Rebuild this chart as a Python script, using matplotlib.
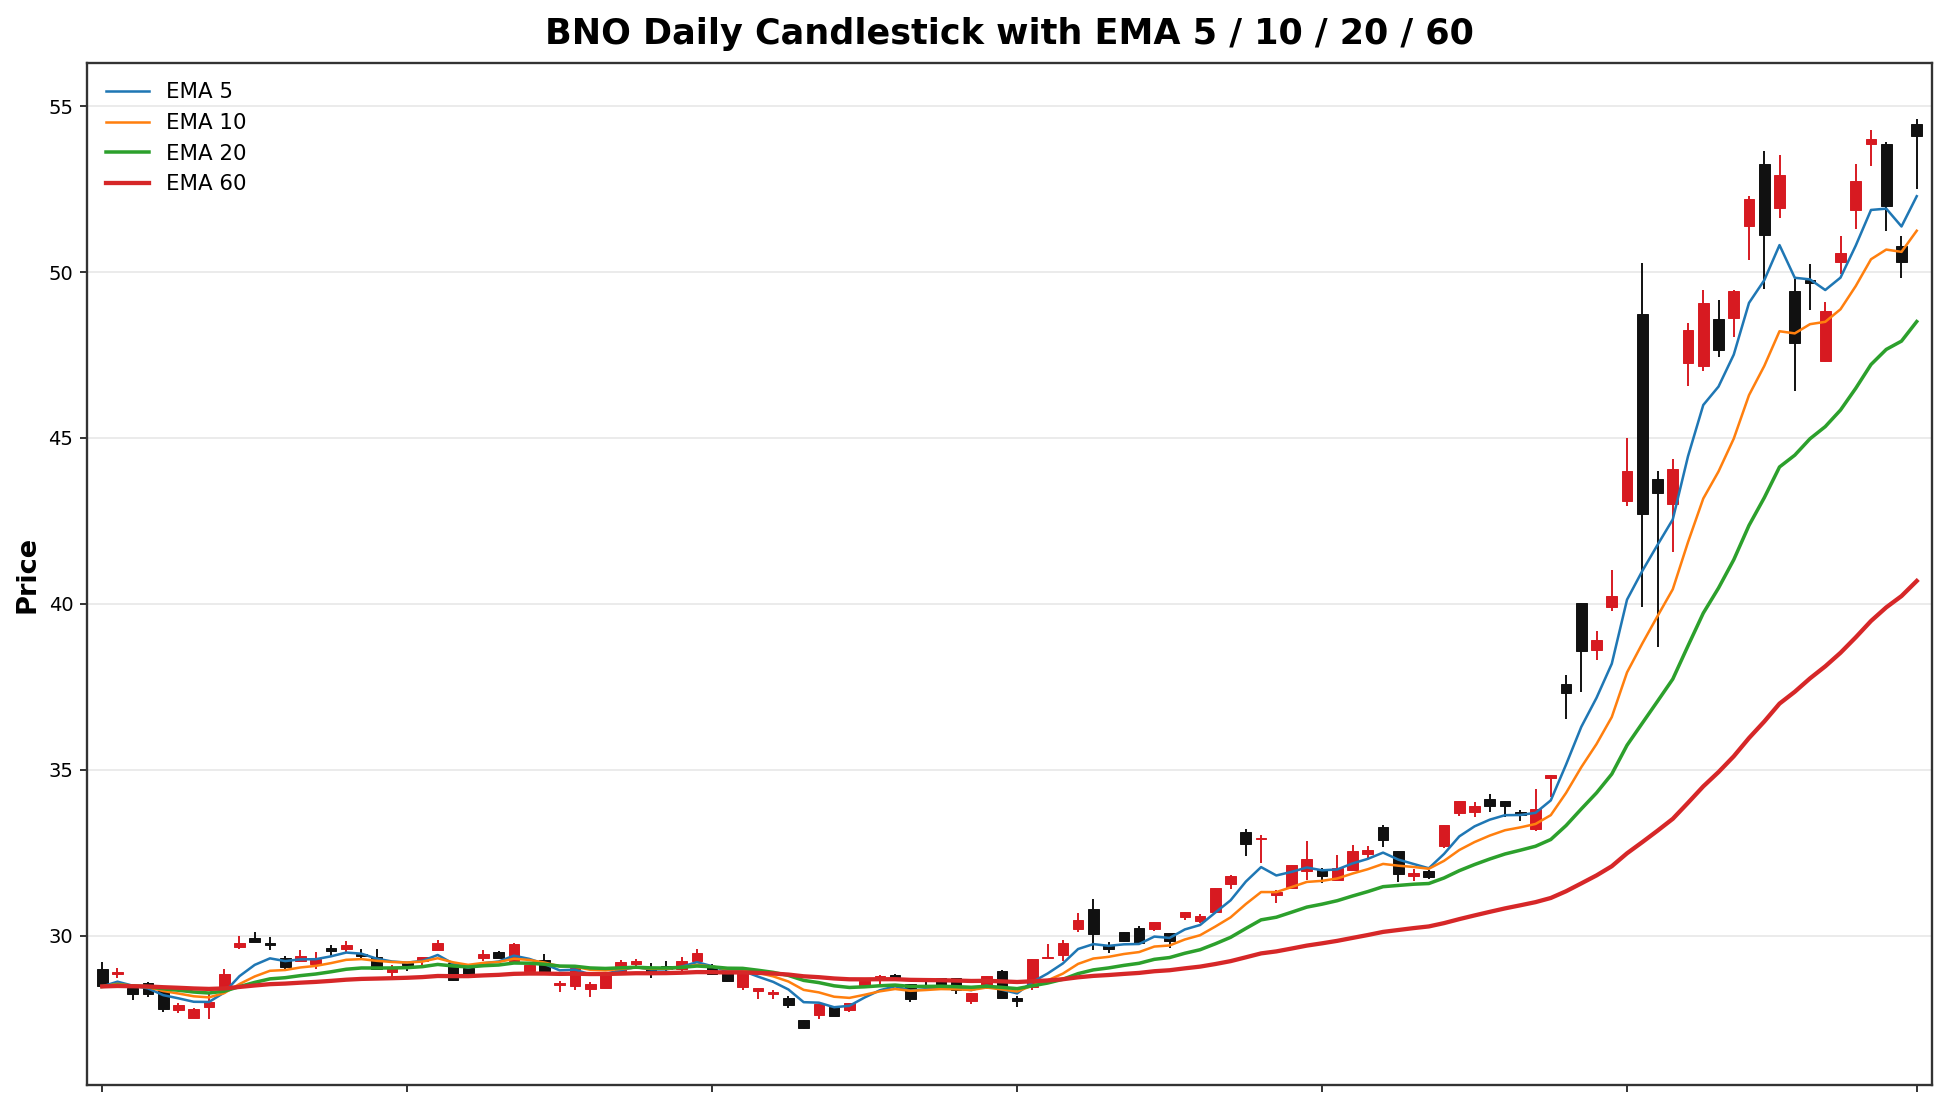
import numpy as np
import pandas as pd
import matplotlib
matplotlib.use("Agg")
import matplotlib.pyplot as plt

# daily OHLC, one entry per trading day
opens = [28.99, 28.85, 28.42, 28.57, 28.35, 27.77, 27.53, 27.85, 28.35, 29.67,
         29.92, 29.77, 29.32, 29.25, 29.15, 29.62, 29.59, 29.46, 29.35, 28.90,
         29.19, 29.25, 29.57, 29.17, 29.02, 29.34, 29.50, 29.25, 28.95, 29.27,
         28.51, 28.47, 28.39, 28.42, 28.87, 29.14, 29.02, 29.08, 28.99, 29.24,
         29.05, 28.87, 28.45, 28.34, 28.24, 28.12, 27.46, 27.61, 27.85, 27.75,
         28.47, 28.65, 28.80, 28.54, 28.52, 28.71, 28.71, 28.03, 28.49, 28.94,
         28.12, 28.45, 29.32, 29.42, 30.19, 30.79, 29.72, 30.10, 30.22, 30.19,
         30.07, 30.57, 30.45, 30.72, 31.57, 33.11, 32.90, 31.24, 31.44, 31.95,
         31.97, 31.69, 31.99, 32.47, 33.28, 32.54, 31.79, 31.95, 32.69, 33.69,
         33.74, 34.13, 34.05, 33.72, 33.20, 34.76, 37.59, 40.02, 38.61, 39.90,
         43.09, 48.74, 43.75, 43.02, 47.27, 47.16, 48.58, 48.61, 51.39, 53.27,
         51.93, 49.44, 49.77, 47.31, 50.29, 51.88, 53.87, 53.87, 50.79, 54.47]
highs = [29.20, 29.02, 28.47, 28.61, 28.37, 27.96, 27.81, 28.25, 29.00, 29.99,
         30.10, 29.95, 29.39, 29.57, 29.51, 29.72, 29.85, 29.59, 29.59, 29.12,
         29.19, 29.35, 29.87, 29.17, 29.02, 29.57, 29.53, 29.77, 29.11, 29.45,
         28.62, 29.02, 28.60, 28.87, 29.27, 29.30, 29.18, 29.24, 29.36, 29.60,
         29.15, 28.87, 28.97, 28.42, 28.35, 28.17, 27.46, 27.95, 27.85, 27.97,
         28.69, 28.82, 28.85, 28.54, 28.62, 28.71, 28.71, 28.27, 28.77, 28.97,
         28.17, 29.29, 29.75, 29.87, 30.67, 31.10, 29.82, 30.12, 30.29, 30.42,
         30.07, 30.70, 30.65, 31.45, 31.84, 33.21, 33.04, 31.37, 32.14, 32.86,
         32.05, 32.42, 32.72, 32.71, 33.34, 32.54, 32.02, 31.98, 33.35, 34.05,
         34.03, 34.26, 34.05, 33.78, 34.41, 34.83, 37.87, 40.02, 39.17, 41.03,
         44.99, 50.28, 44.00, 44.36, 48.47, 49.45, 49.17, 49.47, 52.30, 53.66,
         53.54, 49.78, 50.23, 49.09, 51.10, 53.26, 54.27, 53.91, 51.09, 54.62]
lows = [28.44, 28.71, 28.07, 28.16, 27.70, 27.67, 27.52, 27.49, 28.35, 29.61,
        29.80, 29.57, 29.00, 29.25, 29.00, 29.39, 29.47, 29.34, 29.01, 28.75,
        28.95, 29.02, 29.57, 28.64, 28.77, 29.25, 29.32, 29.22, 28.87, 28.84,
        28.29, 28.37, 28.14, 28.42, 28.87, 29.09, 28.71, 28.92, 28.87, 29.24,
        28.81, 28.59, 28.35, 28.10, 28.10, 27.82, 27.18, 27.48, 27.57, 27.70,
        28.47, 28.52, 28.62, 27.99, 28.47, 28.52, 28.23, 27.93, 28.39, 28.12,
        27.85, 28.35, 29.32, 29.25, 30.12, 29.57, 29.47, 29.80, 29.77, 30.15,
        29.64, 30.47, 30.37, 30.72, 31.40, 32.39, 32.19, 30.99, 31.44, 31.67,
        31.59, 31.69, 31.99, 32.35, 32.67, 31.62, 31.65, 31.70, 32.65, 33.60,
        33.59, 33.72, 33.57, 33.47, 33.15, 34.18, 36.52, 37.34, 38.32, 39.78,
        42.96, 39.90, 38.70, 41.57, 46.58, 47.02, 47.44, 48.04, 50.35, 49.48,
        51.63, 46.42, 48.85, 47.29, 49.93, 51.30, 53.21, 51.23, 49.82, 52.49]
closes = [28.47, 28.90, 28.25, 28.25, 27.80, 27.92, 27.80, 27.99, 28.85, 29.77,
          29.80, 29.71, 29.07, 29.39, 29.30, 29.55, 29.72, 29.39, 29.01, 29.05,
          29.12, 29.35, 29.77, 28.65, 28.77, 29.45, 29.32, 29.75, 29.11, 28.84,
          28.57, 29.02, 28.54, 28.87, 29.20, 29.23, 28.84, 28.99, 29.23, 29.47,
          28.84, 28.62, 28.97, 28.42, 28.29, 27.92, 27.23, 27.95, 27.57, 27.97,
          28.64, 28.79, 28.71, 28.09, 28.47, 28.52, 28.35, 28.27, 28.77, 28.12,
          28.04, 29.29, 29.37, 29.77, 30.47, 30.04, 29.59, 29.83, 29.77, 30.42,
          29.85, 30.70, 30.59, 31.45, 31.80, 32.76, 32.94, 31.31, 32.14, 32.32,
          31.80, 32.05, 32.54, 32.59, 32.88, 31.87, 31.90, 31.77, 33.33, 34.05,
          33.90, 33.90, 33.90, 33.65, 33.83, 34.83, 37.31, 38.57, 38.92, 40.25,
          43.99, 42.72, 43.35, 44.08, 48.26, 49.08, 47.66, 49.44, 52.19, 51.12,
          52.93, 47.86, 49.68, 48.82, 50.58, 52.73, 54.02, 51.99, 50.30, 54.11]

ema_spans = [5, 10, 20, 60]
ema_colors = ["#1f77b4", "#ff7f0e", "#2ca02c", "#d62728"]
ema_widths = [1.3, 1.3, 1.8, 2.2]

df = pd.DataFrame({"open": opens, "high": highs, "low": lows, "close": closes})
x = np.arange(len(df))

fig = plt.figure(figsize=(1946 / 140, 1106 / 140), dpi=140)
ax = fig.add_axes([0.0447, 0.019, 0.9481, 0.924])

up = df["close"] >= df["open"]
colors = np.where(up, "#d71a21", "#111111")

ax.vlines(x, df["low"], df["high"], colors=colors, linewidth=1.0, zorder=2)
ax.bar(x, df["close"] - df["open"], bottom=df["open"], width=0.7,
       color=colors, edgecolor=colors, linewidth=0.5, zorder=2)

for span, c, lw in zip(ema_spans, ema_colors, ema_widths):
    ema = df["close"].ewm(span=span, adjust=False).mean()
    ax.plot(x, ema, color=c, linewidth=lw, label=f"EMA {span}", zorder=3)

ax.set_xlim(-1, len(df))
ax.set_ylim(25.5, 56.3)
ax.set_xticks(list(range(0, len(df), 20)) + [len(df) - 1])
ax.set_xticklabels([])
ax.set_yticks([30, 35, 40, 45, 50, 55])
ax.tick_params(axis="y", labelsize=10)
ax.yaxis.grid(True, color="#ebebeb", linewidth=1.0)
ax.set_axisbelow(True)
for s in ax.spines.values():
    s.set_color("#333333")
    s.set_linewidth(1.2)

ax.set_ylabel("Price", fontsize=14, fontweight="bold")
ax.set_title("BNO Daily Candlestick with EMA 5 / 10 / 20 / 60",
             fontsize=18, fontweight="bold", pad=10)
ax.legend(loc="upper left", fontsize=11, frameon=False)

fig.savefig("out.png", dpi=140)
